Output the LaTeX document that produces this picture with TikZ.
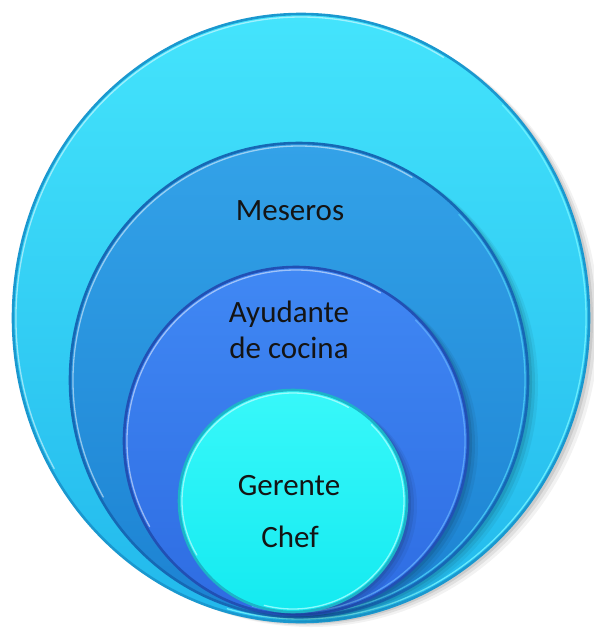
\documentclass[tikz,border=0pt]{standalone}
\usepackage{fontspec}
\setmainfont{Carlito}
\definecolor{ringAtop}{HTML}{44E4FC}
\definecolor{ringAbot}{HTML}{22B8EC}
\definecolor{ringArim}{HTML}{1A98CF}
\definecolor{ringAglint}{HTML}{6FF0FF}
\definecolor{ringBtop}{HTML}{33A2E8}
\definecolor{ringBbot}{HTML}{1C82D2}
\definecolor{ringBrim}{HTML}{1668B4}
\definecolor{ringBglint}{HTML}{48C8F4}
\definecolor{ringCtop}{HTML}{4088F4}
\definecolor{ringCbot}{HTML}{2E6CE2}
\definecolor{ringCrim}{HTML}{2150B4}
\definecolor{ringCglint}{HTML}{5EA8FA}
\definecolor{ringDtop}{HTML}{38F8FA}
\definecolor{ringDbot}{HTML}{14EAF0}
\definecolor{ringDrim}{HTML}{1CB4C8}
\definecolor{ringDglint}{HTML}{9AFCFF}
\begin{document}
% One nested, bevelled ellipse: centre (#1,#2), radii #3/#4,
% fill colours #5 (top) / #6 (bottom), rim #7, lower glint #8
\newcommand\bevelring[8]{%
  \pgfmathsetmacro\rxa{#3-3}\pgfmathsetmacro\rya{#4-3}%
  \foreach \s/\o in {10/0.05,7/0.07,4/0.09}{%
    \fill[black,opacity=\o] (#1+\s,#2+0.5*\s) ellipse[x radius=#3, y radius=#4];}
  \shade[top color=#5, bottom color=#6] (#1,#2) ellipse[x radius=#3, y radius=#4];
  \draw[#7, line width=2.6pt] (#1,#2) ellipse[x radius=#3, y radius=#4];
  \draw[white, opacity=.5, line width=1.3pt, line cap=round]
    ([shift={(150:\rxa\space and \rya)}]#1,#2)
    arc[start angle=150, end angle=300, x radius=\rxa, y radius=\rya];
  \draw[#8, opacity=.9, line width=1.3pt, line cap=round]
    ([shift={(-45:\rxa\space and \rya)}]#1,#2)
    arc[start angle=-45, end angle=105, x radius=\rxa, y radius=\rya];
}
\begin{tikzpicture}[x=1pt,y=-1pt,
  lbl/.style={text=black!92, font=\fontsize{31}{37}\selectfont, inner sep=0pt, anchor=base}]
  \useasboundingbox (0,0) rectangle (594,630);
  \fill[white] (0,0) rectangle (594,630);

  % outer ring
  \bevelring{301}{318}{288}{304}{ringAtop}{ringAbot}{ringArim}{ringAglint}
  % second ring
  \bevelring{299}{380}{229}{237}{ringBtop}{ringBbot}{ringBrim}{ringBglint}
  % third ring
  \bevelring{296}{441}{172}{174}{ringCtop}{ringCbot}{ringCrim}{ringCglint}
  % inner disc
  \bevelring{293}{501}{114}{111}{ringDtop}{ringDbot}{ringDrim}{ringDglint}

  \node[lbl] (meseros) at (290,220) {Meseros};
  \node[lbl] (ayudante) at (289,322) {Ayudante};
  \node[lbl] (cocina) at (289,358) {de cocina};
  \node[lbl] (gerente) at (289,495) {Gerente};
  \node[lbl] (chef) at (290,547) {Chef};
\end{tikzpicture}
\end{document}
